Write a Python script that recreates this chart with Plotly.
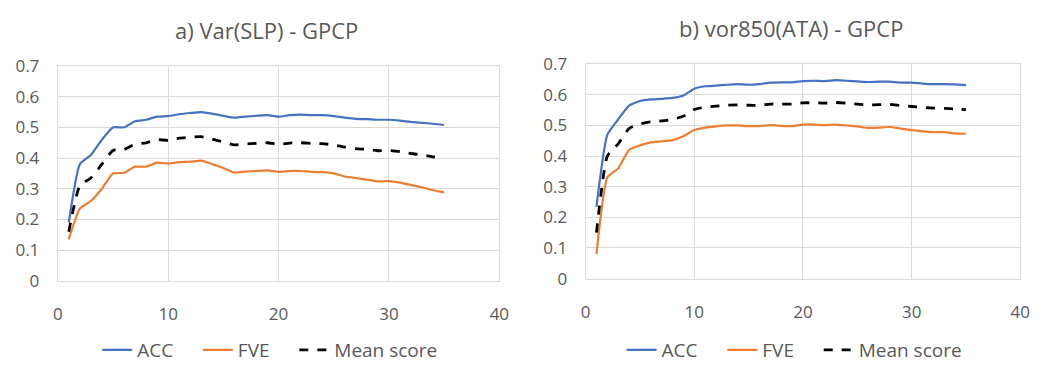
import plotly.graph_objects as go

lags = list(range(1, 36))

# Panel a) Var(SLP) - GPCP
a_acc = [0.19, 0.38, 0.41, 0.46, 0.50, 0.50, 0.52, 0.525, 0.535, 0.537, 0.543, 0.547, 0.55, 0.545, 0.538,
         0.532, 0.535, 0.538, 0.54, 0.535, 0.54, 0.542, 0.54, 0.54, 0.537, 0.532, 0.528, 0.527, 0.525, 0.525,
         0.522, 0.518, 0.515, 0.512, 0.508]
a_fve = [0.135, 0.235, 0.26, 0.30, 0.35, 0.352, 0.372, 0.372, 0.385, 0.382, 0.387, 0.388, 0.392, 0.38, 0.368,
         0.353, 0.356, 0.358, 0.36, 0.355, 0.358, 0.358, 0.355, 0.354, 0.35, 0.34, 0.335, 0.33, 0.324, 0.325,
         0.32, 0.312, 0.305, 0.295, 0.288]
a_mean = [0.16, 0.31, 0.335, 0.38, 0.425, 0.428, 0.445, 0.45, 0.46, 0.458, 0.465, 0.468, 0.47, 0.462, 0.452,
          0.443, 0.446, 0.448, 0.45, 0.445, 0.449, 0.45, 0.448, 0.447, 0.443, 0.436, 0.431, 0.428, 0.424, 0.425,
          0.421, 0.415, 0.41, 0.404, 0.398]

# Panel b) vor850(ATA) - GPCP
b_acc = [0.234, 0.47, 0.52, 0.565, 0.58, 0.585, 0.587, 0.59, 0.598, 0.62, 0.628, 0.63, 0.633, 0.635, 0.633,
         0.635, 0.64, 0.641, 0.641, 0.645, 0.646, 0.645, 0.648, 0.646, 0.644, 0.642, 0.643, 0.643, 0.64, 0.64,
         0.637, 0.635, 0.635, 0.634, 0.632]
b_fve = [0.08, 0.33, 0.36, 0.42, 0.435, 0.445, 0.448, 0.452, 0.465, 0.485, 0.493, 0.497, 0.5, 0.5, 0.498,
         0.498, 0.501, 0.499, 0.498, 0.503, 0.503, 0.501, 0.503, 0.5, 0.497, 0.492, 0.493, 0.495, 0.49, 0.485,
         0.481, 0.478, 0.478, 0.474, 0.473]
b_mean = [0.15, 0.40, 0.44, 0.49, 0.505, 0.512, 0.515, 0.52, 0.53, 0.552, 0.56, 0.563, 0.566, 0.567, 0.566,
          0.566, 0.57, 0.57, 0.57, 0.574, 0.574, 0.573, 0.575, 0.573, 0.57, 0.567, 0.568, 0.569, 0.565, 0.562,
          0.559, 0.557, 0.556, 0.554, 0.552]

titles = ["a) Var(SLP) - GPCP", "b) vor850(ATA) - GPCP"]
series_names = ["ACC", "FVE", "Mean score"]
x_ticks = [0, 10, 20, 30, 40]
y_ticks = [0, 0.1, 0.2, 0.3, 0.4, 0.5, 0.6, 0.7]
y_tick_text = ["0", "0.1", "0.2", "0.3", "0.4", "0.5", "0.6", "0.7"]

BLUE = "#4472C4"
ORANGE = "#ED7D31"
BLACK = "#000000"
GRID = "#d9d9d9"
TXT = "#595959"
FONT = "Open Sans"

W, H = 1051, 369
PAD = "\u00a0" * 4  # spacing between legend entries

fig = go.Figure()

panels = [
    (a_acc, a_fve, a_mean, "x", "y", "legend"),
    (b_acc, b_fve, b_mean, "x2", "y2", "legend2"),
]
for acc, fve, mean, xa, ya, lg in panels:
    for name, vals, color, dash, width in [
        (series_names[0] + PAD, acc, BLUE, "solid", 2.2),
        (series_names[1] + PAD, fve, ORANGE, "solid", 2.2),
        (series_names[2], mean, BLACK, "dash", 2.8),
    ]:
        fig.add_trace(go.Scatter(
            x=lags, y=vals, mode="lines", name=name,
            line=dict(color=color, width=width, dash=dash, shape="spline", smoothing=0.5),
            xaxis=xa, yaxis=ya, legend=lg,
        ))

axis_common = dict(
    showgrid=True, gridcolor=GRID, gridwidth=1,
    showline=True, linecolor=GRID, linewidth=1, mirror=True,
    zeroline=False, ticks="",
    tickfont=dict(family=FONT, size=17, color=TXT),
    fixedrange=True,
)

L = dict(x0=53.5, x1=501.5, yt=58.7, yb=291.7)
R = dict(x0=589, x1=1030, yt=56.7, yb=289.3)

def xdom(p):
    return [p["x0"] / W, p["x1"] / W]

def ydom(p):
    return [1 - p["yb"] / H, 1 - p["yt"] / H]

legend_common = dict(orientation="h", xanchor="center", y=1 - 367 / H, yanchor="middle",
                     font=dict(family=FONT, size=19, color=TXT), bgcolor="rgba(0,0,0,0)",
                     itemwidth=30, tracegroupgap=0)

fig.update_layout(
    width=W, height=H,
    margin=dict(l=0, r=0, t=0, b=0),
    paper_bgcolor="white", plot_bgcolor="white",
    font=dict(family=FONT, color=TXT),
    xaxis=dict(domain=xdom(L), range=[0, 40], tickvals=x_ticks, anchor="y",
               ticklabelstandoff=18, **axis_common),
    yaxis=dict(domain=ydom(L), range=[0, 0.7], tickvals=y_ticks, ticktext=y_tick_text, anchor="x",
               ticklabelstandoff=14, **axis_common),
    xaxis2=dict(domain=xdom(R), range=[0, 40], tickvals=x_ticks, anchor="y2",
                ticklabelstandoff=18, **axis_common),
    yaxis2=dict(domain=ydom(R), range=[0, 0.7], tickvals=y_ticks, ticktext=y_tick_text, anchor="x2",
                ticklabelstandoff=14, **axis_common),
    legend=dict(x=269 / W, **legend_common),
    legend2=dict(x=801 / W, **legend_common),
    annotations=[
        dict(text=titles[0], x=265 / W, y=1 - 20 / H, xref="paper", yref="paper",
             xanchor="center", yanchor="middle", showarrow=False,
             font=dict(family=FONT, size=22, color=TXT)),
        dict(text=titles[1], x=797 / W, y=1 - 17 / H, xref="paper", yref="paper",
             xanchor="center", yanchor="middle", showarrow=False,
             font=dict(family=FONT, size=22, color=TXT)),
    ],
    showlegend=True,
)

fig.write_html("out.html")
